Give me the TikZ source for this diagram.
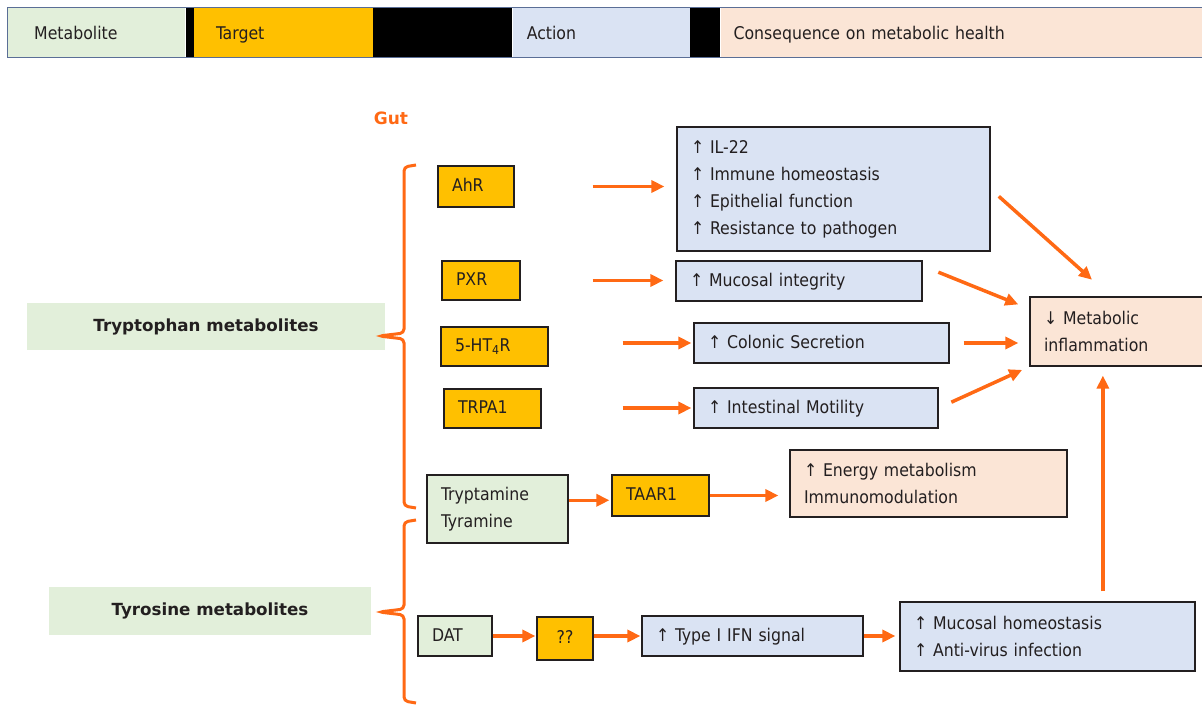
\documentclass[tikz,border=0pt]{standalone}
\usepackage{fontspec}
\setmainfont{DejaVu Sans Condensed}
\newfontfamily\boldlbl{DejaVu Sans}
\usetikzlibrary{arrows.meta}
\setlength{\parindent}{0pt}
\definecolor{metc}{RGB}{226,239,218}
\definecolor{tarc}{RGB}{255,192,0}
\definecolor{actc}{RGB}{218,227,243}
\definecolor{conc}{RGB}{251,229,214}
\definecolor{orng}{RGB}{255,105,20}
\definecolor{ink}{RGB}{35,31,32}
\definecolor{hline}{RGB}{90,110,150}
\begin{document}
\begin{tikzpicture}[x=1pt, y=-1pt,
  every node/.style={text=ink, font=\fontsize{17.5}{27}\selectfont},
  box/.style={draw=ink, line width=1.2pt, inner xsep=14pt, inner ysep=0pt, align=left},
  one/.style={text height=14pt, text depth=4pt},
  tbox/.style={box, fill=tarc},
  abox/.style={box, fill=actc},
  mbox/.style={box, fill=metc},
  cbox/.style={box, fill=conc},
  lbl/.style={fill=metc, font=\fontsize{16.7}{20}\boldlbl\bfseries},
  hseg/.style={anchor=west, minimum height=49pt, inner sep=0pt, align=left, text height=16pt, text depth=2pt},
  arr/.style={orng, line width=3.5pt, -{Triangle[length=13pt,width=12pt]}},
  brace/.style={orng, line width=3pt, rounded corners=4pt}]
  \useasboundingbox (0,0) rectangle (1202,706);
  \node[hseg, fill=metc, text width=178pt] (hmet) at (7,32.5) {\hspace*{27pt}Metabolite};
  \node[hseg, fill=black, minimum width=8pt] (hb1) at (hmet.east) {};
  \node[hseg, fill=tarc, text width=179pt] (htar) at (hb1.east) {\hspace*{22pt}Target};
  \node[hseg, fill=black, minimum width=139pt] (hb2) at (htar.east) {};
  \node[hseg, fill=actc, text width=177pt] (hact) at (hb2.east) {\hspace*{14pt}Action};
  \node[hseg, fill=black, minimum width=30pt] (hb3) at (hact.east) {};
  \node[hseg, fill=conc, text width=492pt] (hcon) at (hb3.east) {\hspace*{13pt}Consequence on metabolic health};
  \draw[hline, line width=1pt] (hmet.north west) rectangle (hcon.south east);

  \node[text=orng, font=\fontsize{17}{20}\boldlbl\bfseries] (gut) at (391,118) {Gut};
  \node[lbl, minimum width=358pt, minimum height=47pt] (trp) at (206,326.5) {Tryptophan metabolites};
  \node[lbl, minimum width=322pt, minimum height=48pt] (tyr) at (210,611) {Tyrosine metabolites};

  \node[tbox, one, text width=48pt, minimum height=41pt] (ahr) at (476,186.5) {AhR};
  \node[tbox, one, text width=50pt, minimum height=39pt] (pxr) at (481,280.5) {PXR};
  \node[tbox, one, text width=79pt, minimum height=39pt] (ht4) at (494.5,346.5) {5-HT\textsubscript{4}R};
  \node[tbox, one, text width=69pt, minimum height=39pt] (trpa) at (492.5,408.5) {TRPA1};

  \node[abox, text width=285pt, minimum height=124pt] (il22) at (833.5,189) {↑ IL-22\\↑ Immune homeostasis\\↑ Epithelial function\\↑ Resistance to pathogen};
  \node[abox, one, text width=218pt, minimum height=40pt] (muc) at (799,281) {↑ Mucosal integrity};
  \node[abox, one, text width=227pt, minimum height=40pt] (col) at (821.5,343) {↑ Colonic Secretion};
  \node[abox, one, text width=216pt, minimum height=40pt] (mot) at (816,408) {↑ Intestinal Motility};
  \node[cbox, text width=152pt, minimum height=69pt] (met) at (1120,331.5) {↓ Metabolic\\inflammation};

  \node[mbox, text width=113pt, minimum height=68pt] (tryp) at (497.5,509) {Tryptamine\\Tyramine};
  \node[tbox, one, text width=69pt, minimum height=41pt] (taar) at (660.5,495.5) {TAAR1};
  \node[cbox, text width=249pt, minimum height=67pt] (enr) at (928.5,483.5) {↑ Energy metabolism\\Immunomodulation};

  \node[mbox, one, text width=46pt, minimum height=40pt] (dat) at (455,636) {DAT};
  \node[tbox, one, align=center, text width=28pt, minimum height=43pt] (qq) at (565,638.5) {??};
  \node[abox, one, text width=193pt, minimum height=40pt] (ifn) at (752.5,636) {↑ Type I IFN signal};
  \node[abox, text width=267pt, minimum height=69pt] (mh) at (1047.5,636.5) {↑ Mucosal homeostasis\\↑ Anti-virus infection};

  \draw[brace] (416,165) -- (404,167) -- (404,333) -- (379,336) -- (404,339) -- (404,506) -- (416,508);
  \draw[brace] (416,520) -- (404,522) -- (404,609) -- (379,612) -- (404,615) -- (404,701) -- (416,703);

  \draw[arr, shorten <=78pt, shorten >=12pt] (ahr.east) -- (ahr.east -| il22.west);
  \draw[arr, shorten <=72pt, shorten >=12pt] (pxr.east) -- (pxr.east -| muc.west);
  \draw[arr, shorten <=74pt, shorten >=2pt] (col.west -| ht4.east) -- (col.west);
  \draw[arr, shorten <=81pt, shorten >=2pt] (mot.west -| trpa.east) -- (mot.west);
  \draw[arr, shorten <=11pt, shorten >=25pt] (il22.east) -- (met.105);
  \draw[arr, shorten <=17pt, shorten >=12pt] (muc.7) -- (met.166);
  \draw[arr, shorten <=14pt, shorten >=11pt] (col.east) -- (col.east -| met.west);
  \draw[arr, shorten <=14pt, shorten >=8pt] (mot.east) -- (met.south west);
  \draw[arr, shorten >=2pt] (tryp.7) -- (tryp.7 -| taar.west);
  \draw[arr, shorten >=11pt] (taar.east) -- (taar.east -| enr.west);
  \draw[arr, shorten >=1pt] (dat.east) -- (dat.east -| qq.west);
  \draw[arr, shorten >=1pt] (ifn.west -| qq.east) -- (ifn.west);
  \draw[arr, shorten >=4pt] (ifn.east) -- (ifn.east -| mh.west);
  \draw[arr, shorten <=10pt, shorten >=9pt] (mh.north -| met.-116) -- (met.-116);
\end{tikzpicture}
\end{document}
